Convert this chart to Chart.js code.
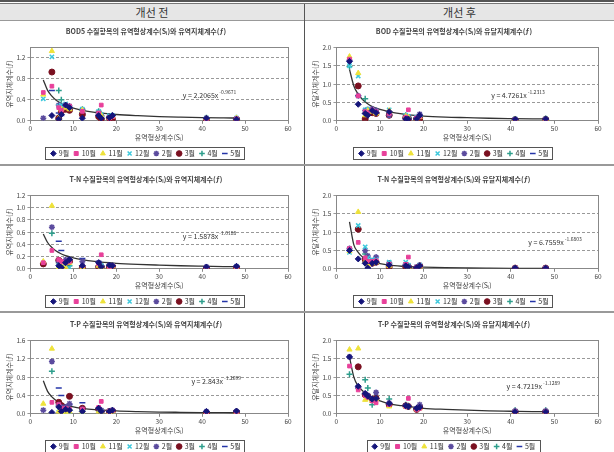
<!DOCTYPE html>
<html>
<head>
<meta charset="utf-8">
<script src="https://cdn.jsdelivr.net/npm/chart.js@4.4.1/dist/chart.umd.min.js"></script>
<style>
body { margin:0; width:614px; height:452px; background:#fff; position:relative; overflow:hidden;
       font-family:"Noto Sans CJK KR", "Noto Sans", sans-serif; }
.ln { position:absolute; background:#666; }
.hd { position:absolute; top:4px; height:16px; line-height:16px; text-align:center; font-size:11px; color:#333; }
.cv { position:absolute; width:304px; height:145px; }
</style>
</head>
<body>
<div class="cv" style="left:0;top:22px"><canvas id="c1"></canvas></div>
<div class="cv" style="left:306px;top:22px;width:308px"><canvas id="c2"></canvas></div>
<div class="cv" style="left:0;top:170px"><canvas id="c3"></canvas></div>
<div class="cv" style="left:306px;top:170px;width:308px"><canvas id="c4"></canvas></div>
<div class="cv" style="left:0;top:315px"><canvas id="c5"></canvas></div>
<div class="cv" style="left:306px;top:315px;width:308px"><canvas id="c6"></canvas></div>

<div class="ln" style="left:0;top:0;width:614px;height:2px;background:#555"></div>
<div class="ln" style="left:0;top:3px;width:614px;height:1px;background:#777"></div>
<div style="position:absolute;left:0;top:4px;width:614px;height:16px;background:#e6e6e6"></div>
<div class="hd" style="left:0;width:304px">개선 전</div>
<div class="hd" style="left:305px;width:309px">개선 후</div>
<div class="ln" style="left:0;top:20px;width:614px;height:1px;background:#999"></div>
<div class="ln" style="left:304px;top:4px;width:1px;height:448px;background:#555"></div>
<div class="ln" style="left:0;top:164px;width:614px;height:2px;background:#999"></div>
<div class="ln" style="left:0;top:311px;width:614px;height:2px;background:#999"></div>

<script>
// 조사 월, 유역형상계수(Si) 지점값
const months = ['9월', '10월', '11월', '12월', '2월', '3월', '4월', '5월'];
const siteX = [3, 5, 6.6, 7.2, 8.2, 9.1, 12.1, 15.9, 16.5, 18.4, 19.1, 41, 48];
const curveX = [3, 4, 5, 6, 7, 8, 10, 12, 15, 20, 25, 30, 35, 40, 45, 48];

// 월별 지체계수 (months 순서)
const bodBefore = [
  [null, 0.10, 0.03, 0.12, 0.30, 0.25, 0.05, 0.10, 0.05, 0.06, 0.10, 0.05, 0.03],
  [0.54, 0.66, 0.25, 0.20, 0.30, 0.28, 0.18, 0.15, 0.30, 0.05, 0.08, 0.04, 0.04],
  [0.50, 1.33, 0.05, 0.22, 0.25, 0.22, 0.20, 0.12, 0.10, 0.06, 0.08, 0.05, 0.05],
  [0.42, 1.22, 0.28, 0.30, 0.32, 0.25, 0.22, 0.18, 0.12, 0.10, 0.10, 0.05, 0.05],
  [0.05, null, 0.30, 0.28, 0.30, 0.28, 0.20, 0.15, 0.10, 0.08, 0.10, 0.05, 0.04],
  [null, 0.93, 0.05, 0.18, 0.22, 0.20, 0.12, 0.08, 0.03, 0.05, 0.03, 0.02, 0.03],
  [null, null, 0.58, 0.40, 0.25, 0.24, 0.22, 0.18, 0.10, 0.08, 0.10, 0.06, 0.06],
  [null, 0.58, 0.15, 0.10, 0.28, 0.20, 0.15, 0.12, 0.08, 0.05, 0.10, 0.05, 0.04]
];
const bodAfter = [
  [1.62, 0.45, 0.20, 0.15, 0.28, 0.22, 0.25, 0.05, 0.05, 0.05, 0.15, 0.04, 0.05],
  [1.68, 0.68, 0.25, 0.22, 0.30, 0.25, 0.20, 0.10, 0.30, 0.08, 0.12, 0.04, 0.04],
  [1.75, 1.30, 0.15, 0.28, 0.25, 0.20, 0.28, 0.12, 0.10, 0.06, 0.10, 0.05, 0.05],
  [1.50, 1.22, 0.30, 0.32, 0.30, 0.25, 0.30, 0.15, 0.12, 0.10, 0.12, 0.05, 0.05],
  [1.65, 0.68, 0.28, 0.30, 0.32, 0.28, 0.15, 0.08, 0.10, 0.08, 0.18, 0.04, 0.04],
  [null, 0.95, 0.05, 0.22, 0.22, 0.20, 0.15, 0.08, 0.05, 0.05, 0.05, 0.03, 0.04],
  [1.48, null, 0.60, 0.30, 0.25, 0.24, 0.22, 0.15, 0.10, 0.08, 0.12, 0.05, 0.06],
  [null, 0.68, 0.20, 0.18, 0.28, 0.22, 0.18, 0.10, 0.08, 0.05, 0.10, 0.04, 0.05]
];
const tnBefore = [
  [null, null, 0.05, 0.02, 0.10, 0.15, 0.05, 0.10, 0.03, 0.06, 0.05, 0.03, 0.04],
  [0.10, 0.30, 0.15, 0.12, 0.10, 0.12, 0.05, 0.08, 0.23, 0.03, 0.05, 0.02, 0.02],
  [0.12, 1.03, 0.02, 0.05, 0.02, 0.10, 0.02, 0.05, 0.03, 0.02, 0.04, 0.01, 0.02],
  [null, null, 0.05, 0.08, 0.05, 0.02, 0.05, 0.07, 0.05, 0.03, 0.05, 0.02, 0.03],
  [null, 0.68, 0.12, 0.10, 0.15, 0.15, 0.12, 0.10, 0.05, 0.06, 0.05, 0.03, 0.04],
  [0.08, null, 0.14, 0.05, 0.05, 0.12, 0.02, 0.03, 0.03, 0.02, 0.04, 0.01, 0.02],
  [null, 0.58, 0.10, 0.06, 0.08, 0.05, 0.05, 0.05, 0.04, 0.03, 0.04, 0.02, 0.03],
  [null, null, 0.45, 0.30, 0.10, 0.15, 0.17, 0.12, 0.05, 0.06, 0.05, 0.03, 0.04]
];
const tnAfter = [
  [0.50, 0.27, 0.15, 0.02, 0.15, 0.18, 0.10, 0.08, 0.05, 0.03, 0.08, 0.02, 0.02],
  [0.55, 0.72, 0.30, 0.20, 0.20, 0.22, 0.12, 0.12, 0.32, 0.05, 0.08, 0.02, 0.02],
  [0.48, 1.55, 0.20, 0.12, 0.15, 0.18, 0.08, 0.10, 0.05, 0.03, 0.06, 0.02, 0.02],
  [0.45, 1.18, 0.60, 0.30, 0.25, 0.25, 0.18, 0.18, 0.10, 0.05, 0.10, 0.02, 0.02],
  [0.55, null, 0.50, 0.35, 0.22, 0.32, 0.15, 0.12, 0.08, 0.05, 0.10, 0.02, 0.02],
  [null, 1.08, 0.25, 0.15, 0.15, 0.18, 0.05, 0.05, 0.05, 0.02, 0.08, 0.02, 0.02],
  [null, null, 0.40, 0.25, 0.20, 0.20, 0.15, 0.12, 0.08, 0.05, 0.08, 0.02, 0.02],
  [0.50, null, 0.30, 0.20, 0.18, 0.20, 0.12, 0.10, 0.06, 0.04, 0.07, 0.02, 0.02]
];
const tpBefore = [
  [null, 0.03, 0.15, 0.05, 0.10, 0.08, 0.05, 0.12, 0.05, 0.05, 0.08, 0.05, 0.06],
  [null, 0.25, 0.20, 0.12, 0.12, 0.10, 0.10, 0.14, 0.27, 0.05, 0.07, 0.03, 0.04],
  [0.22, 1.42, 0.05, 0.05, 0.02, 0.05, 0.05, 0.05, 0.05, 0.03, 0.05, 0.02, 0.03],
  [null, null, 0.10, 0.08, 0.05, 0.05, 0.05, 0.08, 0.05, 0.04, 0.05, 0.03, 0.04],
  [0.08, 1.14, 0.20, 0.15, 0.15, 0.22, 0.10, 0.12, 0.08, 0.06, 0.08, 0.05, 0.05],
  [null, null, 0.25, 0.18, 0.10, 0.38, 0.12, 0.10, 0.05, 0.05, 0.06, 0.02, 0.04],
  [null, 0.93, 0.18, 0.12, 0.08, 0.08, 0.08, 0.08, 0.05, 0.05, 0.06, 0.04, 0.05],
  [null, null, 0.56, 0.40, 0.10, 0.20, 0.24, 0.12, 0.06, 0.06, 0.08, 0.05, 0.06]
];
const tpAfter = [
  [1.55, 0.75, 0.55, 0.48, 0.40, 0.42, 0.28, 0.22, 0.20, 0.15, 0.18, 0.05, 0.05],
  [1.30, 0.65, 0.50, 0.45, 0.35, 0.30, 0.25, 0.20, 0.42, 0.12, 0.15, 0.05, 0.05],
  [1.75, 1.78, 0.38, 0.42, 0.35, 0.40, 0.20, 0.20, 0.20, 0.12, 0.15, 0.05, 0.05],
  null,
  [1.55, 0.72, 0.55, 0.50, 0.40, 0.58, 0.30, 0.22, 0.20, 0.15, 0.25, 0.08, 0.08],
  [null, 1.28, 0.52, 0.48, 0.40, 0.42, 0.25, 0.22, 0.20, 0.12, 0.18, 0.05, 0.05],
  [1.08, null, 0.93, 0.70, 0.25, 0.40, 0.40, 0.25, 0.22, 0.15, 0.22, 0.10, 0.10],
  [null, 0.70, 0.50, 0.45, 0.38, 0.42, 0.30, 0.22, 0.20, 0.15, 0.20, 0.08, 0.08]
];

// 추세선 (그림에서 읽은 값, curveX 순서)
const bodBeforeCurve = [0.78, 0.58, 0.47, 0.39, 0.34, 0.30, 0.24, 0.20, 0.16, 0.12, 0.097, 0.081, 0.070, 0.061, 0.055, 0.052];
const bodAfterCurve = [1.40, 0.95, 0.72, 0.58, 0.48, 0.40, 0.31, 0.25, 0.19, 0.13, 0.10, 0.085, 0.07, 0.06, 0.052, 0.05];
const tnBeforeCurve = [0.57, 0.43, 0.35, 0.29, 0.25, 0.22, 0.18, 0.15, 0.12, 0.09, 0.072, 0.06, 0.05, 0.043, 0.037, 0.034];
const tnAfterCurve = [1.28, 0.65, 0.45, 0.32, 0.25, 0.20, 0.14, 0.10, 0.07, 0.045, 0.03, 0.022, 0.017, 0.013, 0.011, 0.01];
const tpBeforeCurve = [0.72, 0.49, 0.37, 0.29, 0.24, 0.20, 0.15, 0.12, 0.09, 0.063, 0.048, 0.038, 0.032, 0.027, 0.024, 0.022];
const tpAfterCurve = [1.55, 1.00, 0.75, 0.63, 0.52, 0.45, 0.35, 0.28, 0.22, 0.15, 0.12, 0.10, 0.08, 0.07, 0.06, 0.055];

const colors = ['#15157a', '#e8409a', '#eee23a', '#3cc8dc', '#5b4b9e', '#7a1020', '#2e9e8c', '#2535a8'];
const shapes = ['rectRot', 'rect', 'triangle', 'crossRot', 'star', 'circle', 'cross', 'line'];
const FONT = '"Noto Sans CJK KR", "Noto Sans", sans-serif';

const plotBox = {
  id: 'plotBox',
  beforeDatasetsDraw(chart) {
    const a = chart.chartArea, ctx = chart.ctx;
    ctx.save();
    ctx.strokeStyle = '#888';
    ctx.lineWidth = 1;
    ctx.strokeRect(Math.round(a.left) + 0.5, Math.round(a.top) + 0.5, Math.round(a.right - a.left), Math.round(a.bottom - a.top));
    ctx.restore();
  },
  afterDraw(chart) {
    const boxes = chart.legend && chart.legend.legendHitBoxes;
    if (!boxes || !boxes.length) return;
    let l = 1e9, r = -1e9, t = 1e9, b = -1e9;
    boxes.forEach(h => { l = Math.min(l, h.left); r = Math.max(r, h.left + h.width); t = Math.min(t, h.top); b = Math.max(b, h.top + h.height); });
    const ctx = chart.ctx;
    ctx.save();
    ctx.strokeStyle = '#555';
    ctx.lineWidth = 1;
    ctx.strokeRect(Math.round(l - 6) + 0.5, Math.round(t - 3) + 0.5, Math.round(r - l + 10), Math.round(b - t + 5));
    ctx.restore();
  }
};

const eqn = {
  id: 'eqn',
  afterDatasetsDraw(chart, args, opts) {
    if (!opts.text) return;
    const ctx = chart.ctx;
    const px = chart.scales.x.getPixelForValue(opts.x);
    const py = chart.scales.y.getPixelForValue(opts.y);
    ctx.save();
    ctx.fillStyle = '#333';
    ctx.textBaseline = 'alphabetic';
    ctx.font = '7px ' + FONT;
    ctx.fillText(opts.text, px, py);
    const w = ctx.measureText(opts.text).width;
    ctx.font = '5px ' + FONT;
    ctx.fillText(opts.sup, px + w + 1, py - 4);
    ctx.restore();
  }
};

function makeChart(id, title, yTitle, vals, curve, yMax, yStep, eq) {
  const datasets = [];
  vals.forEach((arr, m) => {
    if (!arr) return;
    datasets.push({
      label: months[m],
      data: siteX.map((x, i) => ({ x: x, y: arr[i] })).filter(p => p.y !== null),
      pointStyle: shapes[m],
      backgroundColor: colors[m],
      borderColor: colors[m],
      borderWidth: shapes[m] === 'line' || shapes[m].startsWith('cross') || shapes[m] === 'star' ? 1.5 : 1,
      pointRadius: shapes[m] === 'rect' ? 2.6 : 3
    });
  });
  datasets.push({
    type: 'line',
    label: '',
    data: curveX.map((x, i) => ({ x: x, y: curve[i] })),
    borderColor: '#333',
    borderWidth: 1.3,
    pointRadius: 0,
    cubicInterpolationMode: 'monotone',
    fill: false
  });

  new Chart(document.getElementById(id), {
    type: 'scatter',
    data: { datasets: datasets },
    plugins: [plotBox, eqn],
    options: {
      responsive: true,
      maintainAspectRatio: false,
      animation: false,
      layout: { padding: { left: 4, right: 16, top: 1, bottom: 0 } },
      plugins: {
        title: { display: true, text: title, color: '#444', font: { family: FONT, size: 7 }, padding: { top: 4, bottom: 12 } },
        legend: {
          position: 'bottom',
          labels: {
            usePointStyle: true, boxWidth: 4, boxHeight: 4, padding: 5, color: '#333',
            font: { family: FONT, size: 7 },
            filter: item => item.text !== ''
          }
        },
        tooltip: { enabled: false },
        eqn: eq
      },
      scales: {
        x: {
          min: 0, max: 60,
          ticks: { stepSize: 10, color: '#444', font: { family: FONT, size: 6.5 }, padding: 1 },
          grid: { drawOnChartArea: false, tickLength: 3, color: '#888' },
          border: { color: '#888' },
          title: { display: true, text: '유역형상계수(Sᵢ)', color: '#444', font: { family: FONT, size: 7 }, padding: { top: 0, bottom: 3 } }
        },
        y: {
          min: 0, max: yMax,
          ticks: { stepSize: yStep, color: '#444', font: { family: FONT, size: 6.5 }, padding: 2, callback: v => v.toFixed(1) },
          grid: { color: '#999', tickLength: 3 },
          border: { color: '#888', dash: [3, 2] },
          title: { display: true, text: yTitle, color: '#444', font: { family: FONT, size: 7 }, padding: 1 }
        }
      }
    }
  });
}

makeChart('c1', 'BOD5 수질항목의 유역형상계수(Sᵢ)와 유역지체계수(ƒ)', '유역지체계수(ƒ)', bodBefore, bodBeforeCurve, 1.4, 0.2,
  { text: 'y = 2.2065x', sup: '-0.9671', x: 35.5, y: 0.44 });
makeChart('c2', 'BOD 수질항목의 유역형상계수(Sᵢ)와 유달지체계수(ƒ)', '유달지체계수(ƒ)', bodAfter, bodAfterCurve, 2.0, 0.5,
  { text: 'y = 4.7261x', sup: '-1.2313', x: 35.5, y: 0.62 });
makeChart('c3', 'T-N 수질항목의 유역형상계수(Sᵢ)와 유역지체계수(ƒ)', '유역지체계수(ƒ)', tnBefore, tnBeforeCurve, 1.2, 0.2,
  { text: 'y = 1.5878x', sup: '-1.0188', x: 35.5, y: 0.48 });
makeChart('c4', 'T-N 수질항목의 유역형상계수(Sᵢ)와 유달지체계수(ƒ)', '유달지체계수(ƒ)', tnAfter, tnAfterCurve, 2.0, 0.5,
  { text: 'y = 6.7559x', sup: '-1.6803', x: 44, y: 0.64 });
makeChart('c5', 'T-P 수질항목의 유역형상계수(Sᵢ)와 유역지체계수(ƒ)', '유역지체계수(ƒ)', tpBefore, tpBeforeCurve, 1.6, 0.2,
  { text: 'y = 2.843x', sup: '-1.2699', x: 37.5, y: 0.64 });
makeChart('c6', 'T-P 수질항목의 유역형상계수(Sᵢ)와 유달지체계수(ƒ)', '유달지체계수(ƒ)', tpAfter, tpAfterCurve, 2.0, 0.5,
  { text: 'y = 4.7219x', sup: '-1.1289', x: 39, y: 0.68 });
</script>
</body>
</html>
